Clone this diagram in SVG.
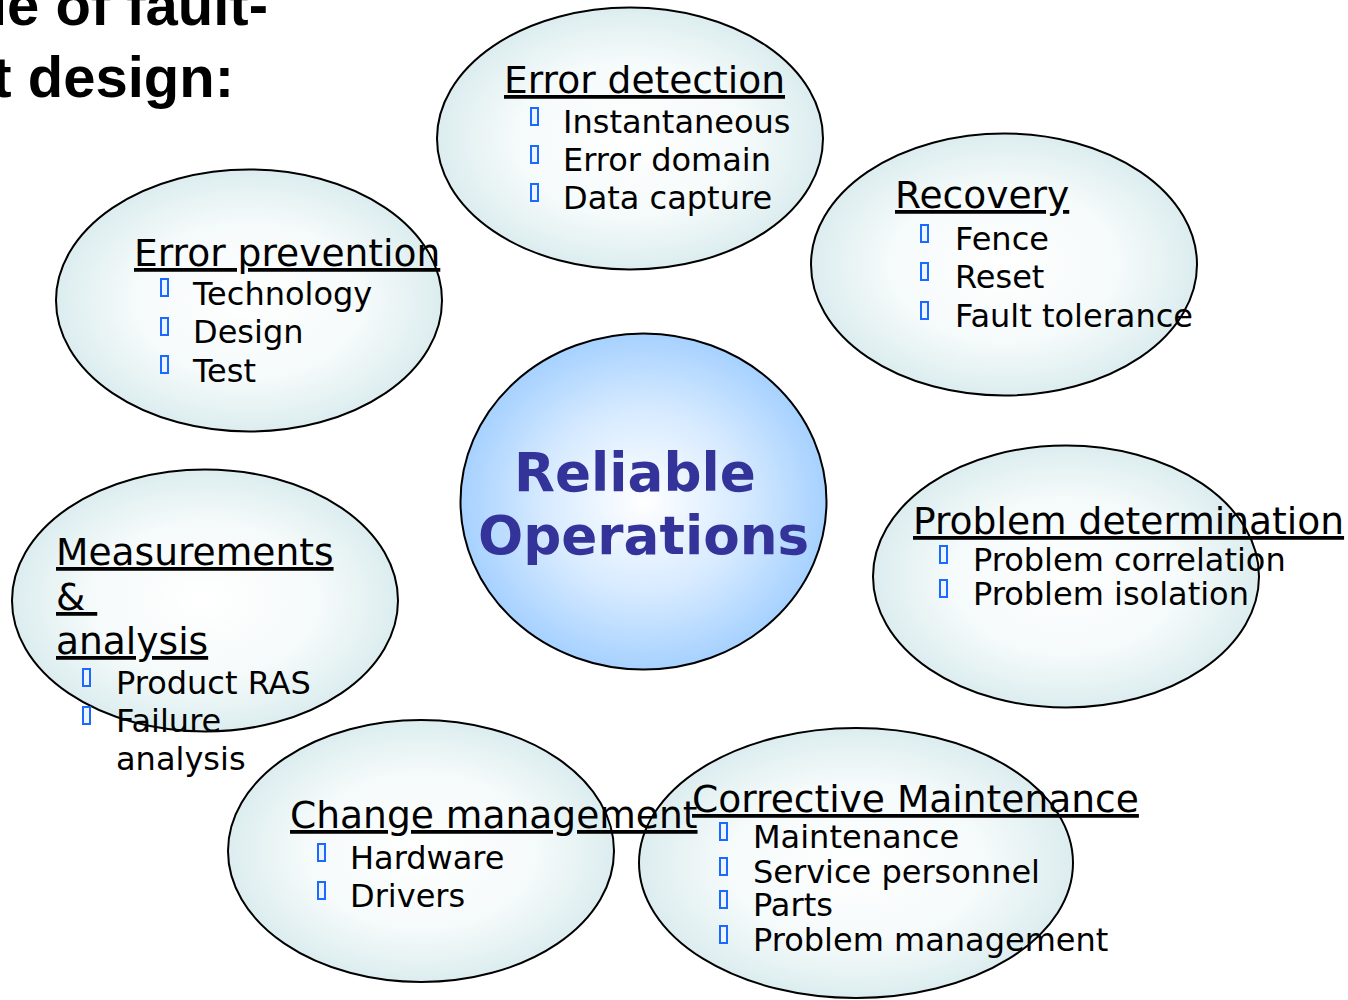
<svg xmlns="http://www.w3.org/2000/svg" xmlns:xlink="http://www.w3.org/1999/xlink" width="1348" height="1000" viewBox="0 0 1348 1000">
<defs>
<radialGradient id="gs" cx="50%" cy="50%" r="50%">
<stop offset="0" stop-color="#ffffff"/>
<stop offset="0.6" stop-color="#f5fafa"/>
<stop offset="1" stop-color="#dcedef"/>
</radialGradient>
<radialGradient id="gc" cx="50%" cy="50%" r="50%">
<stop offset="0" stop-color="#ffffff"/>
<stop offset="0.55" stop-color="#d6eaff"/>
<stop offset="1" stop-color="#a6d1ff"/>
</radialGradient>
<rect id="b" x="0" y="0" width="7" height="17" fill="#eef5ff" stroke="#1a6aff" stroke-width="2"/>
</defs>
<style>
.el{fill:url(#gs);stroke:#000;stroke-width:2}
.t{font-family:"DejaVu Sans",sans-serif;font-size:37.6px;fill:#000;text-decoration:underline}
.i{font-family:"DejaVu Sans",sans-serif;font-size:32px;fill:#000}
.c{font-family:"DejaVu Sans",sans-serif;font-size:53.2px;font-weight:bold;fill:#333399}
.h{font-family:"Liberation Sans",Arial,sans-serif;font-size:58px;font-weight:bold;fill:#000}
</style>
<rect width="1348" height="1000" fill="#ffffff"/>
<g id="heading">
<text class="h" x="268" y="25" text-anchor="end">le of fault-</text>
<text class="h" x="234" y="97" text-anchor="end">t design:</text>
</g>
<g id="connectors"/>
<g id="error-detection">
<ellipse class="el" cx="630" cy="138.5" rx="193" ry="131"/>
<text class="t" x="504" y="93">Error detection</text>
<use xlink:href="#b" x="531" y="108"/><text class="i" x="563" y="133">Instantaneous</text>
<use xlink:href="#b" x="531" y="146"/><text class="i" x="563" y="171">Error domain</text>
<use xlink:href="#b" x="531" y="184"/><text class="i" x="563" y="209">Data capture</text>
</g>
<g id="recovery">
<ellipse class="el" cx="1004" cy="264.5" rx="193" ry="131"/>
<text class="t" x="895" y="208">Recovery</text>
<use xlink:href="#b" x="921" y="225"/><text class="i" x="955" y="250">Fence</text>
<use xlink:href="#b" x="921" y="263"/><text class="i" x="955" y="288">Reset</text>
<use xlink:href="#b" x="921" y="302"/><text class="i" x="955" y="327">Fault tolerance</text>
</g>
<g id="error-prevention">
<ellipse class="el" cx="249" cy="300.5" rx="193" ry="131"/>
<text class="t" x="134" y="266">Error prevention</text>
<use xlink:href="#b" x="161" y="279"/><text class="i" x="193" y="305">Technology</text>
<use xlink:href="#b" x="161" y="318"/><text class="i" x="193" y="343">Design</text>
<use xlink:href="#b" x="161" y="356"/><text class="i" x="193" y="382">Test</text>
</g>
<g id="reliable-operations">
<ellipse cx="643.5" cy="501.5" rx="183" ry="168" fill="url(#gc)" stroke="#000" stroke-width="2"/>
<text class="c" x="514" y="491">Reliable</text>
<text class="c" x="478" y="554">Operations</text>
</g>
<g id="problem-determination">
<ellipse class="el" cx="1066" cy="576.5" rx="193" ry="131"/>
<text class="t" x="913" y="534">Problem determination</text>
<use xlink:href="#b" x="940" y="546"/><text class="i" x="973" y="571">Problem correlation</text>
<use xlink:href="#b" x="940" y="580"/><text class="i" x="973" y="605">Problem isolation</text>
</g>
<g id="measurements-analysis">
<ellipse class="el" cx="205" cy="600.5" rx="193" ry="131"/>
<text class="t" x="56" y="565">Measurements</text>
<text class="t" x="56" y="610">&amp;&#160;</text>
<text class="t" x="56" y="654">analysis</text>
<use xlink:href="#b" x="83" y="669"/><text class="i" x="116" y="694">Product RAS</text>
<use xlink:href="#b" x="83" y="707"/><text class="i" x="116" y="732">Failure</text>
<text class="i" x="116" y="770">analysis</text>
</g>
<g id="corrective-maintenance">
<ellipse class="el" cx="856" cy="863" rx="217" ry="135"/>
<text class="t" x="692" y="812">Corrective Maintenance</text>
<use xlink:href="#b" x="720" y="823"/><text class="i" x="753" y="848">Maintenance</text>
<use xlink:href="#b" x="720" y="858"/><text class="i" x="753" y="883">Service personnel</text>
<use xlink:href="#b" x="720" y="891"/><text class="i" x="753" y="916">Parts</text>
<use xlink:href="#b" x="720" y="926"/><text class="i" x="753" y="951">Problem management</text>
</g>
<g id="change-management">
<ellipse class="el" cx="421" cy="851" rx="193" ry="131"/>
<text class="t" x="290" y="828">Change management</text>
<use xlink:href="#b" x="318" y="844"/><text class="i" x="350" y="869">Hardware</text>
<use xlink:href="#b" x="318" y="882"/><text class="i" x="350" y="907">Drivers</text>
</g>
</svg>
